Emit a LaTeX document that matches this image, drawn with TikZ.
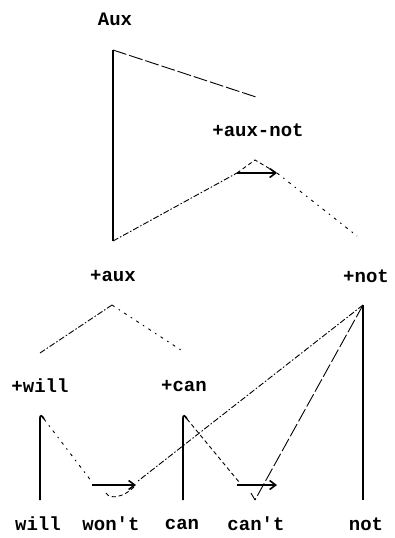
\documentclass[tikz,border=0pt]{standalone}
\usepackage{fontspec}
\setmonofont{Liberation Mono}
\usetikzlibrary{arrows.meta,calc}
\tikzset{
  lbl/.style={font=\ttfamily\fontsize{19}{19}\selectfont\bfseries, inner sep=0pt},
  vert/.style={line width=1.7pt},
  thin/.style={line width=0.9pt},
  dashdot/.style={thin, dash pattern=on 6pt off 2pt on 1.5pt off 2pt},
  sparsedot/.style={thin, dash pattern=on 3pt off 5pt on 1.5pt off 5pt},
  longdash/.style={thin, dash pattern=on 14pt off 3pt},
  shortdash/.style={thin, dash pattern=on 4pt off 3pt},
  bigarrow/.style={line width=2pt, -{Straight Barb[length=6pt,width=9pt,line width=1.6pt]}}
}
\begin{document}
\begin{tikzpicture}[x=1pt,y=-1pt]
\useasboundingbox (0,0) rectangle (394,538);
% labels
\node[lbl] (Aux) at (115,19) {Aux};
\node[lbl] (auxnot) at (258,130) {+aux-not};
\node[lbl] (aux) at (113,276) {+aux};
\node[lbl] (notp) at (366,276) {+not};
\node[lbl] (willp) at (40,386) {+will};
\node[lbl] (canp) at (184,386) {+can};
\node[lbl] (will) at (38,524) {will};
\node[lbl] (wont) at (111,524) {won't};
\node[lbl] (can) at (182,524) {can};
\node[lbl] (cant) at (256,524) {can't};
\node[lbl] (not) at (366,524) {not};
% coordinates
\coordinate (A1) at (113,50);
\coordinate (A2) at (113,241);
\coordinate (A3) at (256,97);
\coordinate (P1) at (237,173);
\coordinate (P2) at (255,160);
\coordinate (P3) at (277,173);
\coordinate (P4) at (357,236);
\coordinate (X1) at (112,305);
\coordinate (X2) at (40,353);
\coordinate (X3) at (184,352);
\coordinate (N1) at (363,305);
\coordinate (N2) at (363,500);
\coordinate (W1) at (40,500);
\coordinate (W2) at (40,418);
\coordinate (W3) at (44,419);
\coordinate (WA) at (92,485);
\coordinate (WB) at (136,485);
\coordinate (C1) at (183,500);
\coordinate (C2) at (183,418);
\coordinate (C3) at (187,419);
\coordinate (CA) at (237,485);
\coordinate (CB) at (277,485);
\coordinate (CV) at (255,500);
% top triangle
\draw[vert] (A1) -- (A2);
\draw[longdash] (A1) -- (A3);
\draw[dashdot] (A2) -- (P1);
\draw[shortdash] (P1) -- (P2) -- (P3);
\draw[sparsedot] (P3) -- (P4);
\draw[bigarrow] (P1) -- (P3);
% +aux branches
\draw[dashdot] (X1) -- (X2);
\draw[sparsedot] (X1) -- (X3);
% will
\draw[vert] (W1) -- (W2) .. controls (40,415) and (42,415) .. (W3);
\draw[sparsedot] (W3) -- ($(WA)+(0,-3)$);
\draw[bigarrow] (WA) -- (WB);
\draw[shortdash] (106,493) .. controls (110,500) and (124,497) .. (134,487);
% can
\draw[vert] (C1) -- (C2) .. controls (183,415) and (185,415) .. (C3);
\draw[shortdash] (C3) -- ($(CA)+(2,-3)$);
\draw[bigarrow] (CA) -- (CB);
% not
\draw[vert] (N1) -- (N2);
\draw[longdash] (N1) -- (CV);
\draw[thin] (251,493) -- (CV);
\draw[dashdot] (N1) -- (138,481);
\end{tikzpicture}
\end{document}
